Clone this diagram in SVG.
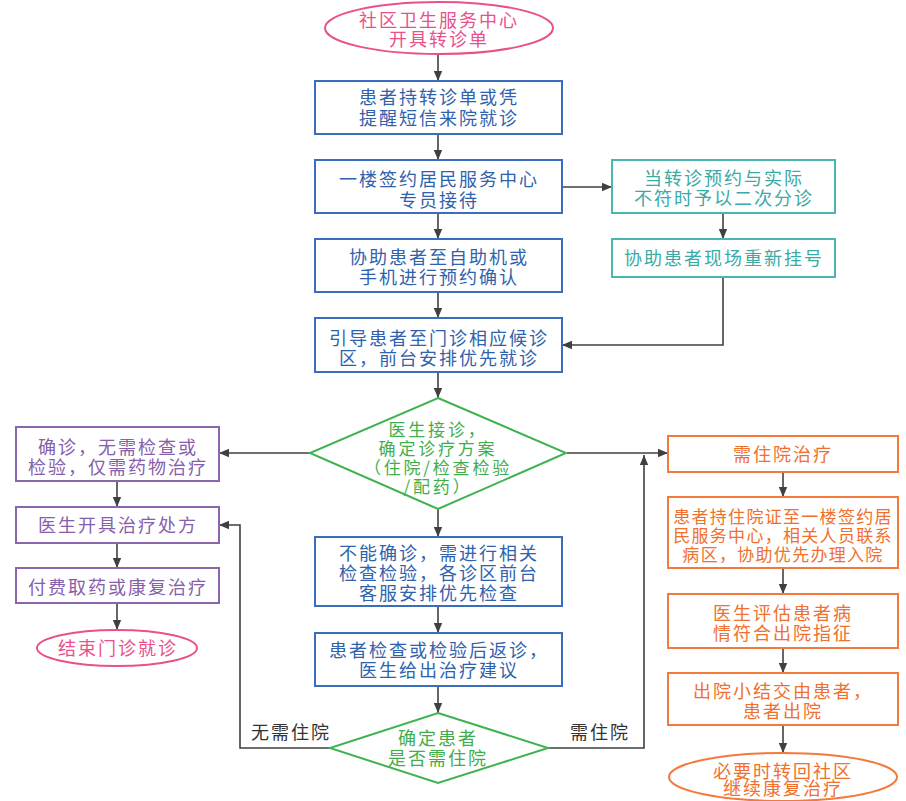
<svg xmlns="http://www.w3.org/2000/svg" width="906" height="801" viewBox="0 0 906 801">
<style>
text{font-family:"Noto Sans CJK SC","Noto Sans",sans-serif;font-size:18px;text-anchor:middle;letter-spacing:2px}
.sm{font-size:17px;letter-spacing:2.8px}
.pk{fill:none;stroke:#e9508c;stroke-width:2}
.bl{fill:#fff;stroke:#3a6dbd;stroke-width:2}
.tl{fill:#fff;stroke:#4ab7b3;stroke-width:2}
.gr{fill:#fff;stroke:#3fb34f;stroke-width:2}
.pu{fill:#fff;stroke:#8a67ad;stroke-width:2}
.or{fill:#fff;stroke:#f47a3c;stroke-width:2}
.tpk{fill:#e9508c}.tbl{fill:#2f62ad}.ttl{fill:#3aaaa6}.tgr{fill:#3fae4b}.tpu{fill:#8660aa}.tor{fill:#f0702e}.tdk{fill:#333}
.c{fill:none;stroke:#404040;stroke-width:1.6}
</style>
<defs>
<marker id="ah" markerUnits="userSpaceOnUse" markerWidth="10" markerHeight="10" viewBox="0 0 10 10" refX="10" refY="5" orient="auto">
<path d="M0,0.8 L10,5 L0,9.2 Z" fill="#404040"/>
</marker>
</defs>
<rect width="906" height="801" fill="#fff"/>
<g id="connectors">
<line class="c" x1="438" y1="54" x2="438" y2="81" marker-end="url(#ah)"/>
<line class="c" x1="438" y1="134" x2="438" y2="160" marker-end="url(#ah)"/>
<line class="c" x1="438" y1="213" x2="438" y2="239" marker-end="url(#ah)"/>
<line class="c" x1="438" y1="292" x2="438" y2="318" marker-end="url(#ah)"/>
<line class="c" x1="438" y1="372" x2="438" y2="398" marker-end="url(#ah)"/>
<line class="c" x1="438" y1="509" x2="438" y2="537" marker-end="url(#ah)"/>
<line class="c" x1="438" y1="606" x2="438" y2="633" marker-end="url(#ah)"/>
<line class="c" x1="438" y1="686" x2="438" y2="713" marker-end="url(#ah)"/>
<line class="c" x1="562" y1="187" x2="612" y2="187" marker-end="url(#ah)"/>
<line class="c" x1="723" y1="213" x2="723" y2="239" marker-end="url(#ah)"/>
<polyline class="c" points="723,277 723,345 562,345" marker-end="url(#ah)"/>
<line class="c" x1="310" y1="453" x2="219" y2="453" marker-end="url(#ah)"/>
<line class="c" x1="117" y1="481" x2="117" y2="507" marker-end="url(#ah)"/>
<line class="c" x1="117" y1="543" x2="117" y2="568" marker-end="url(#ah)"/>
<line class="c" x1="117" y1="603" x2="117" y2="630" marker-end="url(#ah)"/>
<line class="c" x1="567" y1="453" x2="668" y2="453" marker-end="url(#ah)"/>
<polyline class="c" points="330,748 240,748 240,525 219,525" marker-end="url(#ah)"/>
<polyline class="c" points="548,748 644,748 644,455" marker-end="url(#ah)"/>
<line class="c" x1="783" y1="472" x2="783" y2="497" marker-end="url(#ah)"/>
<line class="c" x1="783" y1="568" x2="783" y2="594" marker-end="url(#ah)"/>
<line class="c" x1="783" y1="648" x2="783" y2="673" marker-end="url(#ah)"/>
<line class="c" x1="783" y1="725" x2="783" y2="753" marker-end="url(#ah)"/>
<text class="tdk" x="291" y="739">无需住院</text>
<text class="tdk" x="600" y="739">需住院</text>
</g>
<g id="start">
<ellipse class="pk" cx="439" cy="28" rx="114" ry="26"/>
<text class="tpk" x="439" y="27">社区卫生服务中心</text>
<text class="tpk" x="439" y="46">开具转诊单</text>
</g>
<g id="n1">
<rect class="bl" x="315" y="81" width="247" height="53"/>
<text class="tbl" x="439" y="104">患者持转诊单或凭</text>
<text class="tbl" x="439" y="125">提醒短信来院就诊</text>
</g>
<g id="n2">
<rect class="bl" x="315" y="160" width="247" height="53"/>
<text class="tbl" x="439" y="186">一楼签约居民服务中心</text>
<text class="tbl" x="439" y="207">专员接待</text>
</g>
<g id="n3">
<rect class="bl" x="315" y="239" width="247" height="53"/>
<text class="tbl" x="439" y="264">协助患者至自助机或</text>
<text class="tbl" x="439" y="284">手机进行预约确认</text>
</g>
<g id="n4">
<rect class="bl" x="315" y="318" width="247" height="54"/>
<text class="tbl" x="439" y="345">引导患者至门诊相应候诊</text>
<text class="tbl" x="439" y="365">区，前台安排优先就诊</text>
</g>
<g id="t1">
<rect class="tl" x="612" y="160" width="223" height="53"/>
<text class="ttl" x="724" y="185">当转诊预约与实际</text>
<text class="ttl" x="724" y="205">不符时予以二次分诊</text>
</g>
<g id="t2">
<rect class="tl" x="612" y="239" width="223" height="38"/>
<text class="ttl" x="724" y="265">协助患者现场重新挂号</text>
</g>
<g id="d1">
<polygon class="gr" points="438,398 566,453 438,509 310,453"/>
<text class="tgr sm" x="438" y="436">医生接诊，</text>
<text class="tgr sm" x="438" y="455">确定诊疗方案</text>
<text class="tgr sm" x="438" y="474">（住院/检查检验</text>
<text class="tgr sm" x="438" y="493">/配药）</text>
</g>
<g id="p1">
<rect class="pu" x="16" y="427" width="203" height="54"/>
<text class="tpu" x="118" y="454">确诊，无需检查或</text>
<text class="tpu" x="118" y="474">检验，仅需药物治疗</text>
</g>
<g id="p2">
<rect class="pu" x="16" y="507" width="203" height="36"/>
<text class="tpu" x="118" y="532">医生开具治疗处方</text>
</g>
<g id="p3">
<rect class="pu" x="16" y="568" width="203" height="35"/>
<text class="tpu" x="118" y="594">付费取药或康复治疗</text>
</g>
<g id="end1">
<ellipse class="pk" cx="117" cy="648" rx="80" ry="18"/>
<text class="tpk" x="118" y="655">结束门诊就诊</text>
</g>
<g id="n5">
<rect class="bl" x="315" y="537" width="247" height="69"/>
<text class="tbl" x="439" y="560">不能确诊，需进行相关</text>
<text class="tbl" x="439" y="580">检查检验，各诊区前台</text>
<text class="tbl" x="439" y="600">客服安排优先检查</text>
</g>
<g id="n6">
<rect class="bl" x="315" y="633" width="247" height="53"/>
<text class="tbl" x="439" y="657">患者检查或检验后返诊，</text>
<text class="tbl" x="439" y="677">医生给出治疗建议</text>
</g>
<g id="d2">
<polygon class="gr" points="438,713 548,748 438,783 330,748"/>
<text class="tgr" x="438" y="745">确定患者</text>
<text class="tgr" x="438" y="765">是否需住院</text>
</g>
<g id="o1">
<rect class="or" x="668" y="436" width="230" height="36"/>
<text class="tor" x="783" y="461">需住院治疗</text>
</g>
<g id="o2">
<rect class="or" x="668" y="497" width="230" height="71"/>
<text class="tor" x="783" y="523" style="font-size:17px;letter-spacing:1.3px">患者持住院证至一楼签约居</text>
<text class="tor" x="783" y="542" style="font-size:17px;letter-spacing:1.3px">民服务中心，相关人员联系</text>
<text class="tor" x="783" y="561" style="font-size:17px;letter-spacing:1.3px">病区，协助优先办理入院</text>
</g>
<g id="o3">
<rect class="or" x="668" y="594" width="230" height="54"/>
<text class="tor" x="783" y="620">医生评估患者病</text>
<text class="tor" x="783" y="640">情符合出院指征</text>
</g>
<g id="o4">
<rect class="or" x="668" y="673" width="230" height="52"/>
<text class="tor" x="783" y="698">出院小结交由患者，</text>
<text class="tor" x="783" y="718">患者出院</text>
</g>
<g id="end2">
<ellipse class="or" cx="783" cy="777" rx="114" ry="24" style="fill:none"/>
<text class="tor" x="783" y="778">必要时转回社区</text>
<text class="tor" x="783" y="795">继续康复治疗</text>
</g>
</svg>
